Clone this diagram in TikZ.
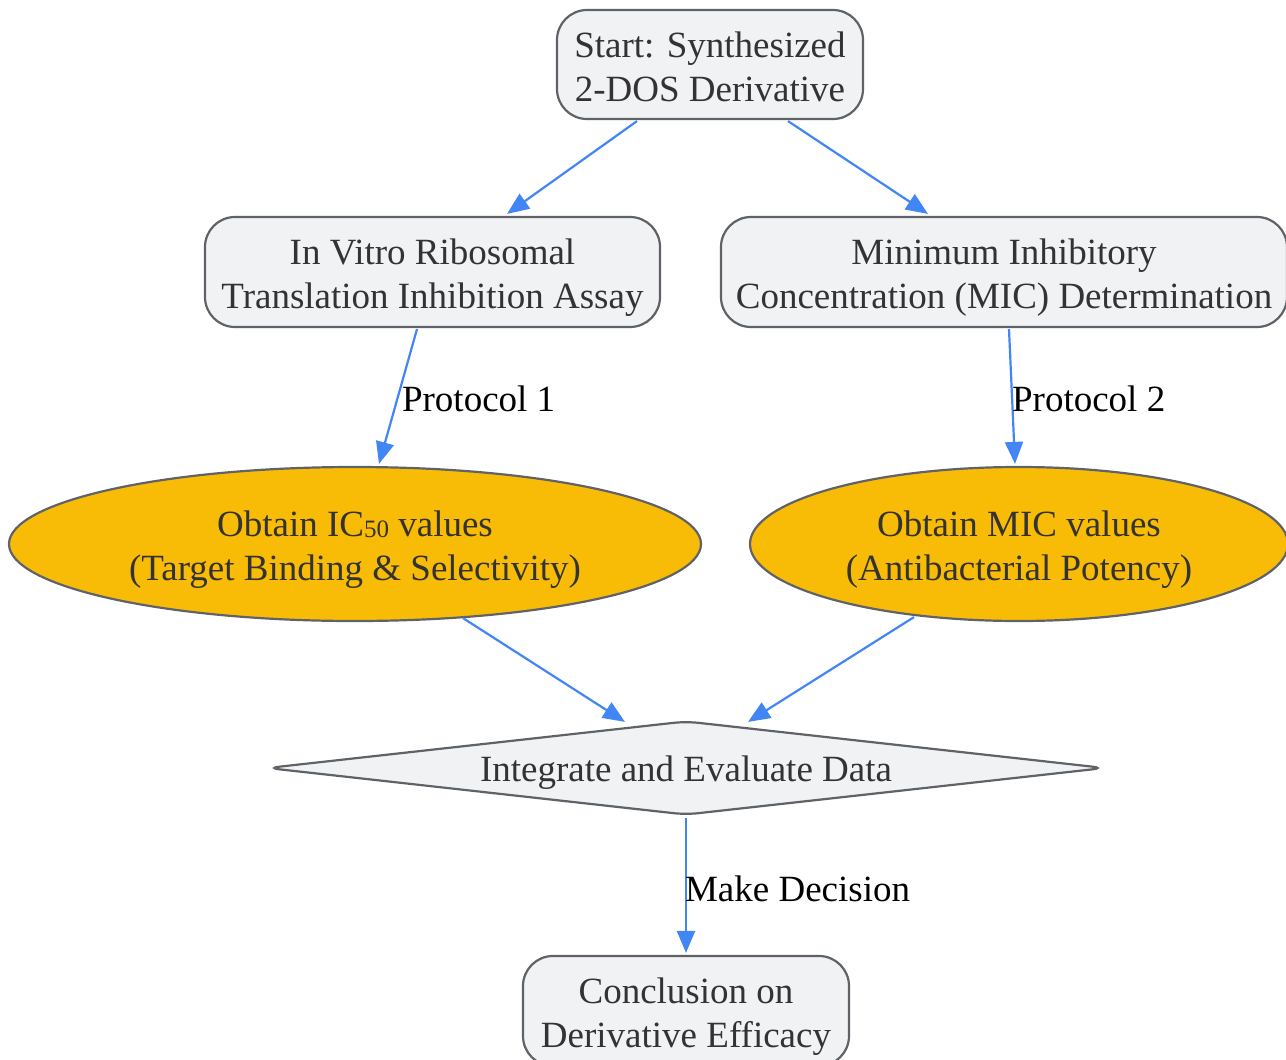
\documentclass[tikz,border=0pt]{standalone}
\usepackage{fontspec}
\setmainfont{Liberation Serif}
\usetikzlibrary{arrows.meta,shapes.geometric,calc}
\definecolor{boxfill}{HTML}{F1F2F4}
\definecolor{boxline}{HTML}{5F6368}
\definecolor{amber}{HTML}{F9BC06}
\definecolor{arrowblue}{HTML}{4285F4}
\definecolor{txt}{HTML}{333333}
\begin{document}
\begin{tikzpicture}[x=1pt,y=-1pt,
  every node/.style={font=\fontsize{37}{44}\selectfont, text=txt},
  procbox/.style={draw=boxline, line width=2.2pt, fill=boxfill, rounded corners=30pt, inner sep=0pt},
  result/.style={ellipse, draw=boxline, line width=2.2pt, fill=amber, inner sep=0pt},
  decision/.style={diamond, draw=boxline, line width=2.2pt, fill=boxfill, rounded corners=12pt, inner sep=0pt, aspect=8.96},
  ntext/.style={align=center, inner sep=0pt},
  arr/.style={draw=arrowblue, line width=2.2pt, -{Triangle[length=22pt,width=18pt]}},
  elabel/.style={text=black, inner sep=0pt}]
\useasboundingbox (0,0) rectangle (1286,1060);
% shapes
\node[procbox, minimum width=306pt, minimum height=109pt] (start) at (710,64.5) {};
\node[procbox, minimum width=455pt, minimum height=110pt] (invitro) at (432.5,272) {};
\node[procbox, minimum width=566pt, minimum height=110pt] (mic) at (1004,272) {};
\node[result, minimum width=692pt, minimum height=154pt] (ic50) at (355,544) {};
\node[result, minimum width=538pt, minimum height=154pt] (micell) at (1019,544) {};
\node[decision, minimum width=838pt, minimum height=94pt] (dec) at (686,768) {};
\node[procbox, minimum width=326pt, minimum height=110pt] (concl) at (686,1011) {};
% texts
\node[ntext] (startT) at ($(start.center)+(0,2.5)$) {Start: Synthesized\\2-DOS Derivative};
\node[ntext] (invitroT) at ($(invitro.center)+(0,5.5)$) {In Vitro Ribosomal\\Translation Inhibition Assay};
\node[ntext] (micT) at ($(mic.center)+(0,5.5)$) {Minimum Inhibitory\\Concentration (MIC) Determination};
\node[ntext] (ic50T) at ($(ic50.center)+(0,5.5)$) {Obtain IC{\fontsize{25}{25}\selectfont\raisebox{-1.5pt}{50}} values\\(Target Binding \& Selectivity)};
\node[ntext] (micellT) at ($(micell.center)+(0,5.5)$) {Obtain MIC values\\(Antibacterial Potency)};
\node[ntext] (decT) at ($(dec.center)+(0,5)$) {Integrate and Evaluate Data};
\node[ntext] (conclT) at ($(concl.center)+(0,5.5)$) {Conclusion on\\Derivative Efficacy};
% connectors
\draw[arr] ($(start.south)+(-73,1)$) -- ($(invitro.north)+(74.5,-2)$);
\draw[arr] ($(start.south)+(78,1)$) -- ($(mic.north)+(-76,-2)$);
\draw[arr] ($(invitro.south)+(-15.5,1)$) -- node[elabel, anchor=west, xshift=3pt, yshift=-2pt] {Protocol 1} ($(ic50.north)+(24,-2)$);
\draw[arr] ($(mic.south)+(5,1)$) -- node[elabel, anchor=west, xshift=-1pt, yshift=-2pt] {Protocol 2} ($(micell.north)+(-4,-2)$);
\draw[arr] ($(ic50.south)+(108,-4)$) -- ($(dec.north)+(-61,2)$);
\draw[arr] ($(micell.south)+(-105,-5)$) -- ($(dec.north)+(62,2)$);
\draw[arr] ($(dec.south)+(0,2)$) -- node[elabel, anchor=west, xshift=-2pt, yshift=-3pt] {Make Decision} ($(concl.north)+(0,-2)$);
\end{tikzpicture}
\end{document}
